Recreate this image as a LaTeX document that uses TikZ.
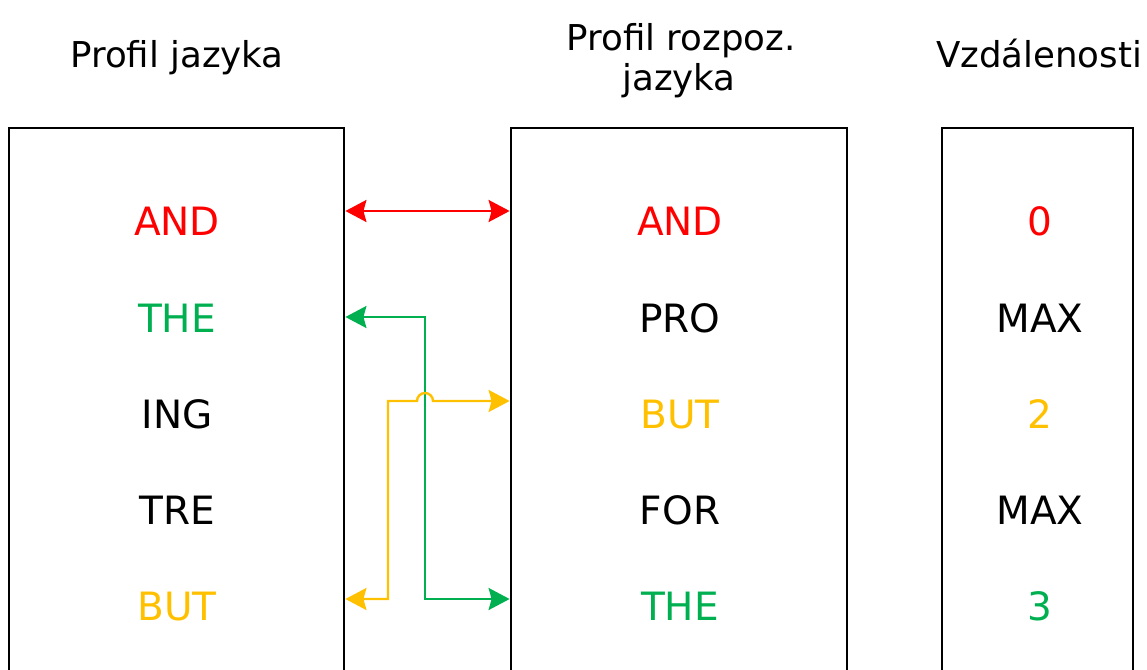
\documentclass[tikz,border=0pt]{standalone}
\usepackage{fontspec}
\setmainfont{DejaVu Sans}
\usetikzlibrary{arrows.meta}
\definecolor{cred}{HTML}{FF0000}
\definecolor{cgreen}{HTML}{00B050}
\definecolor{cyellow}{HTML}{FFC000}
\begin{document}
\begin{tikzpicture}[x=1pt,y=1pt,
  >={Stealth[length=21pt,width=22pt,inset=3pt]},
  column/.style={draw=black,line width=2.8pt,minimum height=572pt,inner sep=0pt},
  head/.style={font=\fontsize{35.6}{40}\selectfont,anchor=base,inner sep=0pt},
  item/.style={font=\fontsize{39}{40}\selectfont,anchor=base,inner sep=0pt},
  link/.style={line width=2.4pt,<->}]
\useasboundingbox (0,0) rectangle (1147,-669);
\clip (0,0) rectangle (1147,-669);

% three columns, running off the lower edge
\node[column,minimum width=335pt] (lbox) at (176.5,-414) {};
\node[column,minimum width=336pt] (mbox) at (679,-414) {};
\node[column,minimum width=191pt] (dbox) at (1037.5,-414) {};

% headings
\node[head] (t1) at (177,-67) {Profil jazyka};
\node[head] (t2a) at (681,-50) {Profil rozpoz.};
\node[head] (t2b) at (679,-90) {jazyka};
\node[head] (t3) at (1039,-67) {Vzdálenosti};

% language profile
\node[item,text=cred]    (l1) at (177,-235) {AND};
\node[item,text=cgreen]  (l2) at (177,-332) {THE};
\node[item]              (l3) at (177,-428) {ING};
\node[item]              (l4) at (177,-524) {TRE};
\node[item,text=cyellow] (l5) at (177,-620) {BUT};

% recognised language profile
\node[item,text=cred]    (m1) at (680,-235) {AND};
\node[item]              (m2) at (680,-332) {PRO};
\node[item,text=cyellow] (m3) at (680,-428) {BUT};
\node[item]              (m4) at (680,-524) {FOR};
\node[item,text=cgreen]  (m5) at (680,-620) {THE};

% distances
\node[item,text=cred]    (d1) at (1040,-235) {0};
\node[item]              (d2) at (1040,-332) {MAX};
\node[item,text=cyellow] (d3) at (1040,-428) {2};
\node[item]              (d4) at (1040,-524) {MAX};
\node[item,text=cgreen]  (d5) at (1040,-620) {3};

% arrow levels and bend lines
\coordinate (ya) at (0,-211);
\coordinate (yg) at (0,-317);
\coordinate (yy) at (0,-401);
\coordinate (yb) at (0,-599);
\coordinate (xg) at (425,0);
\coordinate (xy) at (388,0);

% AND <-> AND
\draw[link,cred] (lbox.east |- ya) -- (mbox.west |- ya);
% THE <-> THE
\draw[link,cgreen] (lbox.east |- yg) -- (xg |- yg) -- (xg |- yb) -- (mbox.west |- yb);
% BUT <-> BUT, hopping over the green line
\draw[link,cyellow] (lbox.east |- yb) -- (xy |- yb) -- (xy |- yy)
  -- ([xshift=-8pt]xg |- yy) arc[start angle=180,end angle=0,radius=8pt]
  -- (mbox.west |- yy);
\end{tikzpicture}
\end{document}
